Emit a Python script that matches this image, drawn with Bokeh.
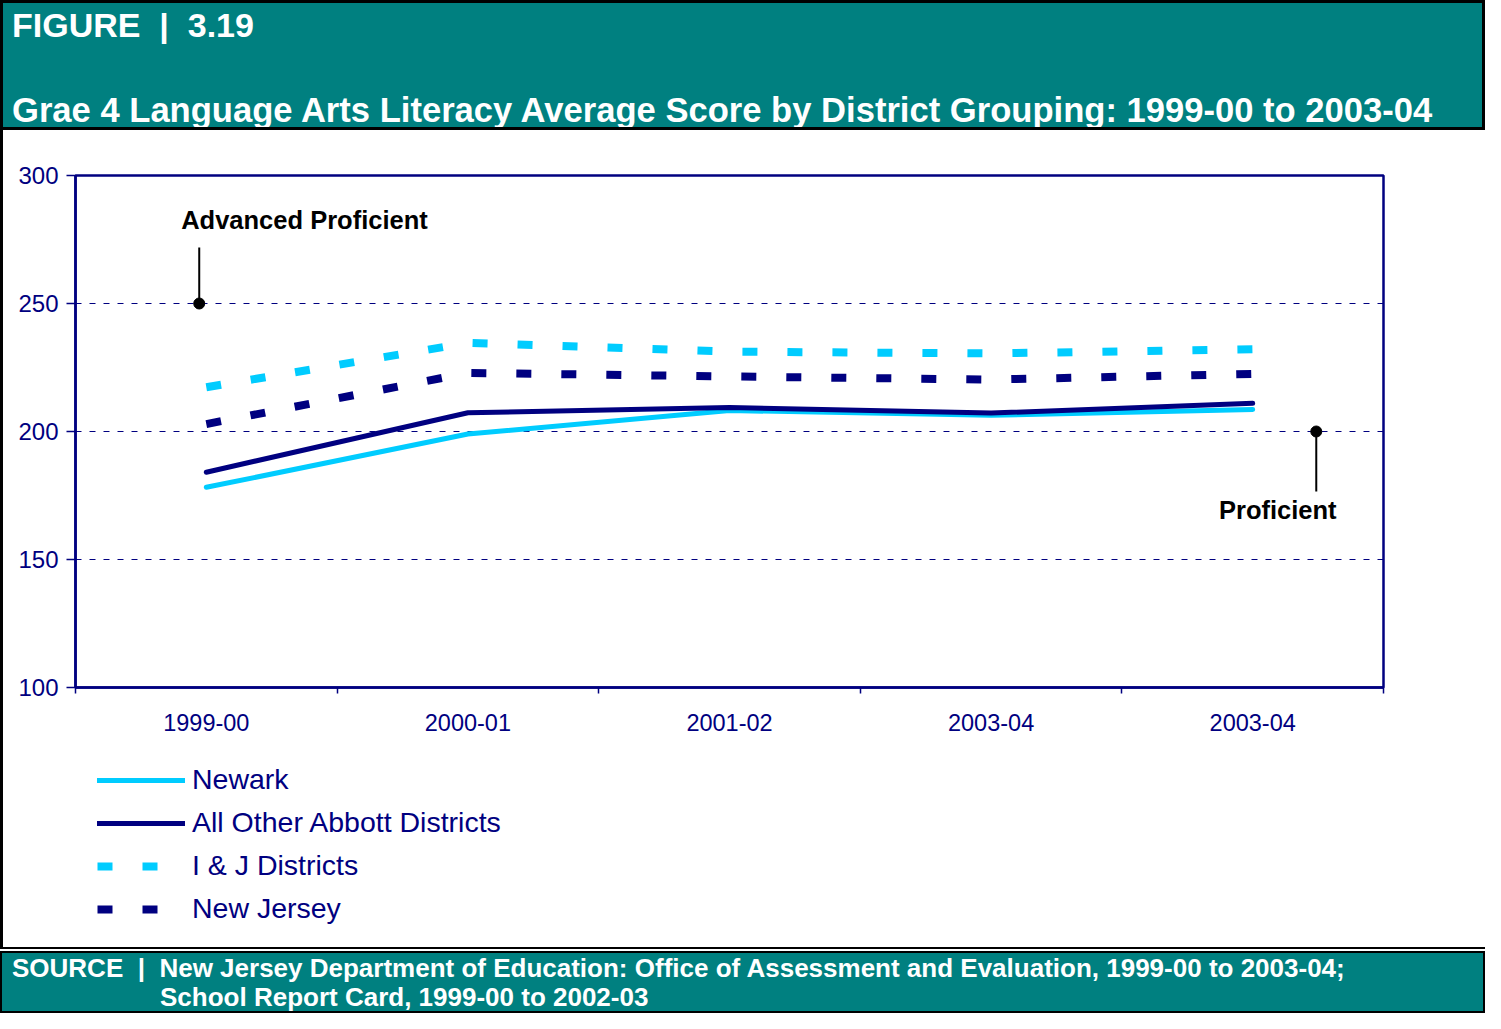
from bokeh.plotting import figure
from bokeh.layouts import column, row
from bokeh.models import (Range1d, FixedTicker, Label, Legend, LegendItem, Div)
from bokeh.embed import file_html
from bokeh.resources import INLINE

# ---------------- data ----------------
periods = ["1999-00", "2000-01", "2001-02", "2003-04", "2003-04"]
newark = [178.2, 199.0, 208.2, 206.3, 208.6]
abbott = [184.1, 207.3, 209.4, 207.2, 211.0]
ij_districts = [217.3, 234.6, 231.2, 230.5, 232.1]
new_jersey = [202.9, 222.9, 221.5, 220.3, 222.5]
series_names = ["Newark", "All Other Abbott Districts", "I & J Districts", "New Jersey"]
y_ticks = [100, 150, 200, 250, 300]
grid_levels = [150, 200, 250]
level_values = [250, 200]
level_names = ["Advanced Proficient", "Proficient"]
fig_label = "FIGURE&nbsp;&nbsp;|&nbsp;&nbsp;3.19"
title = "Grae 4 Language Arts Literacy Average Score by District Grouping: 1999-00 to 2003-04"
source_1 = "SOURCE&nbsp;&nbsp;|&nbsp;&nbsp;New Jersey Department of Education: Office of Assessment and Evaluation, 1999-00 to 2003-04;"
source_2 = "School Report Card, 1999-00 to 2002-03"

NAVY = "#000080"
LIGHT = "#00CCFF"
TEAL = "#008080"
FONT = "Liberation Sans"

xs = list(range(1, len(periods) + 1))

W = 1485
BAR = 3                       # black left edge of the white body
H_HEAD, H_MAIN, H_LEG, H_FOOT = 130, 615, 202, 66
FRAME_L, FRAME_R = 75, 1383   # page x of plot frame


def text_lines(lines):
    return "".join(
        f'<div style="position:absolute;left:{lx}px;top:{ty}px;font-size:{fs}px;line-height:1;white-space:nowrap;">{txt}</div>'
        for (lx, ty, txt, fs) in lines)


font_css = f"color:white;font-family:'{FONT}';font-weight:bold;"
header_html = (f'<div style="position:relative;width:{W}px;height:{H_HEAD}px;box-sizing:border-box;'
               f'background:{TEAL};border:3px solid black;{font_css}overflow:hidden;">'
               + text_lines([(9, 5, fig_label, 34), (9, 90, title, 34.6)]) + '</div>')
header = Div(text=header_html, width=W, height=H_HEAD, margin=0)

footer_html = (f'<div style="position:relative;width:{W}px;height:{H_FOOT}px;background:white;overflow:hidden;">'
               f'<div style="position:absolute;left:0;top:0;width:{W}px;height:2px;background:black;"></div>'
               f'<div style="position:absolute;left:0;top:4px;width:{W}px;height:{H_FOOT - 4}px;box-sizing:border-box;'
               f'background:{TEAL};border:2px solid black;{font_css}">'
               + text_lines([(10, 2, source_1, 26), (158, 31, source_2, 26)]) + '</div></div>')
footer = Div(text=footer_html, width=W, height=H_FOOT, margin=0)

left_bar = Div(text=f'<div style="width:{BAR}px;height:{H_MAIN + H_LEG}px;background:black;"></div>',
               width=BAR, height=H_MAIN + H_LEG, margin=0)

# ---------------- main chart ----------------
PW = W - BAR
p = figure(width=PW, height=H_MAIN, x_range=Range1d(0.5, 5.5), y_range=Range1d(100, 300),
           output_backend="svg", toolbar_location=None,
           min_border_left=FRAME_L - BAR, min_border_right=W - FRAME_R, min_border_top=45,
           min_border_bottom=H_MAIN - 557, margin=0)
p.background_fill_color = "white"
p.border_fill_color = "white"
p.outline_line_color = NAVY
p.outline_line_width = 2.5

yax = p.yaxis[0]
yax.ticker = FixedTicker(ticks=y_ticks)
yax.axis_line_color = NAVY
yax.axis_line_width = 2.5
yax.major_tick_line_color = NAVY
yax.major_tick_line_width = 1.5
yax.major_tick_out = 9
yax.major_tick_in = 0
yax.minor_tick_line_color = None
yax.major_label_text_color = NAVY
yax.major_label_text_font = FONT
yax.major_label_text_font_size = "24px"
yax.major_label_standoff = 8

xax = p.xaxis[0]
xax.ticker = FixedTicker(ticks=xs, minor_ticks=[x - 0.5 for x in xs] + [xs[-1] + 0.5])
xax.major_label_overrides = {x: lab for x, lab in zip(xs, periods)}
xax.axis_line_color = NAVY
xax.axis_line_width = 2.5
xax.major_tick_line_color = None
xax.major_tick_out = 0
xax.major_tick_in = 0
xax.minor_tick_line_color = NAVY
xax.minor_tick_line_width = 1.5
xax.minor_tick_out = 6
xax.minor_tick_in = 0
xax.major_label_text_color = NAVY
xax.major_label_text_font = FONT
xax.major_label_text_font_size = "23.5px"
xax.major_label_standoff = 20

p.xgrid.grid_line_color = None
p.ygrid.ticker = FixedTicker(ticks=grid_levels)
p.ygrid.grid_line_color = NAVY
p.ygrid.grid_line_width = 1
p.ygrid.grid_line_dash = "6 8"

solid_style = dict(line_width=5, line_cap="round", line_join="round")
dash_style = dict(line_width=8, line_dash="15 30")
series = [(newark, LIGHT, solid_style), (abbott, NAVY, solid_style),
          (ij_districts, LIGHT, dash_style), (new_jersey, NAVY, dash_style)]
for vals, col, sty in series[2:] + series[:2]:
    p.line(xs, vals, line_color=col, **sty)

# proficiency markers
adv_x, prof_x = 0.973, 5.243
p.segment(x0=[adv_x], y0=[level_values[0]], x1=[adv_x], y1=[271.9], line_color="black", line_width=2)
p.segment(x0=[prof_x], y0=[level_values[1]], x1=[prof_x], y1=[176.6], line_color="black", line_width=2)
p.scatter([adv_x, prof_x], level_values, size=11, color="black")
p.add_layout(Label(x=0.904, y=277.3, text=level_names[0], text_font=FONT, text_font_style="bold",
                   text_font_size="25.5px", text_color="black"))
p.add_layout(Label(x=5.096, y=163.7, text=level_names[1], text_font=FONT, text_font_style="bold",
                   text_font_size="25.5px", text_color="black", text_align="center"))

# ---------------- legend strip ----------------
# same series drawn against a range that keeps them out of view; only the legend shows
lg = figure(width=PW, height=H_LEG, x_range=Range1d(0, 1), y_range=Range1d(0, 1),
            output_backend="svg", toolbar_location=None,
            min_border_left=FRAME_L - BAR, min_border_right=W - FRAME_R, min_border_top=0,
            min_border_bottom=0, margin=0)
lg.axis.visible = False
lg.grid.visible = False
lg.outline_line_color = None
lg.background_fill_color = "white"
lg.border_fill_color = "white"
proxies = [lg.line(xs, vals, line_color=col, **sty) for vals, col, sty in series]
legend = Legend(items=[LegendItem(label=n, renderers=[r]) for n, r in zip(series_names, proxies)],
                location=(22, 22), orientation="vertical",
                glyph_width=88, glyph_height=32, label_height=32, label_standoff=7, spacing=10,
                padding=0, margin=0, border_line_color=None, background_fill_alpha=0,
                label_text_font=FONT, label_text_font_size="28.5px", label_text_color=NAVY)
lg.add_layout(legend, "center")

body = row(left_bar, column(p, lg, spacing=0), spacing=0)
layout = column(header, body, footer, spacing=0)
open("out.html", "w").write(file_html(layout, INLINE))
